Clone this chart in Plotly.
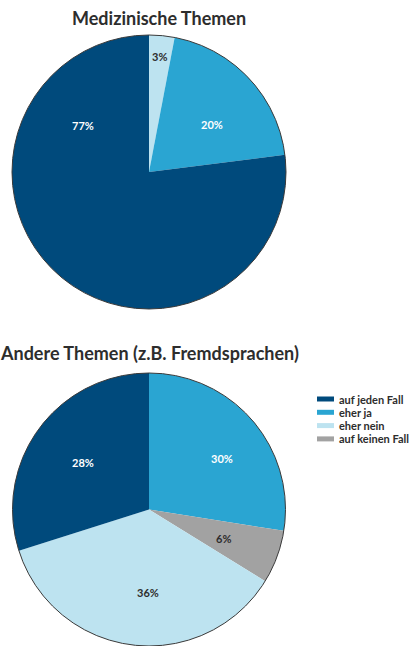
import plotly.graph_objects as go

# ---------------- data ----------------
top_title = "Medizinische Themen"
top_labels = ["eher nein", "eher ja", "auf jeden Fall"]
top_values = [3, 20, 77]
top_text = ["3%", "20%", "77%"]

bot_title = "Andere Themen (z.B. Fremdsprachen)"
bot_labels = ["eher ja", "auf keinen Fall", "eher nein", "auf jeden Fall"]
bot_values = [27.5, 6.3, 36.3, 29.9]   # slice shares as drawn in the picture
bot_text = ["30%", "6%", "36%", "28%"]  # percentages as printed in the picture

legend_labels = ["auf jeden Fall", "eher ja", "eher nein", "auf keinen Fall"]

# ---------------- styling ----------------
colors = {
    "auf jeden Fall": "#004a7c",
    "eher ja": "#2aa5d2",
    "eher nein": "#bde3f0",
    "auf keinen Fall": "#a2a2a2",
}
text_colors = {
    "auf jeden Fall": "#ffffff",
    "eher ja": "#ffffff",
    "eher nein": "#2d2d2d",
    "auf keinen Fall": "#2d2d2d",
}
FONT = "Lato"

# body margin is removed via post_script, so page pixels == figure pixels
W, H = 410, 646


def px(x):
    return x / W


def py(y):
    return 1 - y / H


# pie geometry in page pixels (cx, cy, r)
top_geo = (149, 172, 137)
bot_geo = (149, 509.5, 136.5)

# label placements in page pixels
top_label_pos = [(159, 56), (212, 124), (83, 125)]
bot_label_pos = [(222, 458), (223, 538), (148, 592), (83, 463)]


def dom(cx, cy, r):
    return dict(x=[max(0, px(cx - r)), min(1, px(cx + r))],
                y=[max(0, py(cy + r)), min(1, py(cy - r))])


fig = go.Figure()
annotations = []
shapes = []
for labels, values, texts, geo, pos in (
        (top_labels, top_values, top_text, top_geo, top_label_pos),
        (bot_labels, bot_values, bot_text, bot_geo, bot_label_pos)):
    fig.add_trace(go.Pie(
        labels=labels, values=values, sort=False, direction="clockwise",
        marker=dict(colors=[colors[l] for l in labels], line=dict(width=0)),
        textinfo="none", domain=dom(*geo), hoverinfo="label",
        showlegend=False,
    ))
    for lab, t, (x, y) in zip(labels, texts, pos):
        annotations.append(dict(text="<b>" + t + "</b>", x=px(x), y=py(y),
                                xref="paper", yref="paper", showarrow=False,
                                xanchor="center", yanchor="middle",
                                font=dict(family=FONT, size=11, color=text_colors[lab])))
    cx, cy, r = geo
    shapes.append(dict(type="circle", xref="paper", yref="paper",
                       x0=px(cx - r), x1=px(cx + r), y0=py(cy + r), y1=py(cy - r),
                       line=dict(color="#3a3a3a", width=1), layer="above"))

annotations += [
    dict(text="<b>" + top_title + "</b>", x=px(158.5), y=py(18), xref="paper", yref="paper",
         showarrow=False, xanchor="center", yanchor="middle",
         font=dict(family=FONT, size=18, color="#2d2d2d")),
    dict(text="<b>" + bot_title + "</b>", x=px(149.5), y=py(353), xref="paper", yref="paper",
         showarrow=False, xanchor="center", yanchor="middle",
         font=dict(family=FONT, size=18, color="#2d2d2d")),
]

# legend
for i, lab in enumerate(legend_labels):
    yc = 399 + i * 13.3
    shapes.append(dict(type="rect", xref="paper", yref="paper",
                       x0=px(317), x1=px(334), y0=py(yc + 2.5), y1=py(yc - 2.5),
                       fillcolor=colors[lab], line=dict(width=0)))
    annotations.append(dict(text="<b>" + lab + "</b>", x=px(337), y=py(yc),
                            xref="paper", yref="paper", showarrow=False,
                            xanchor="left", yanchor="middle",
                            font=dict(family=FONT, size=11, color="#2d2d2d")))

fig.update_layout(
    width=W, height=H, margin=dict(l=0, r=0, t=0, b=0),
    paper_bgcolor="white", plot_bgcolor="white",
    shapes=shapes, annotations=annotations, showlegend=False,
)

fig.write_html("out.html", config={"displayModeBar": False},
               post_script="document.body.style.margin='0px';document.body.style.overflow='hidden';")
